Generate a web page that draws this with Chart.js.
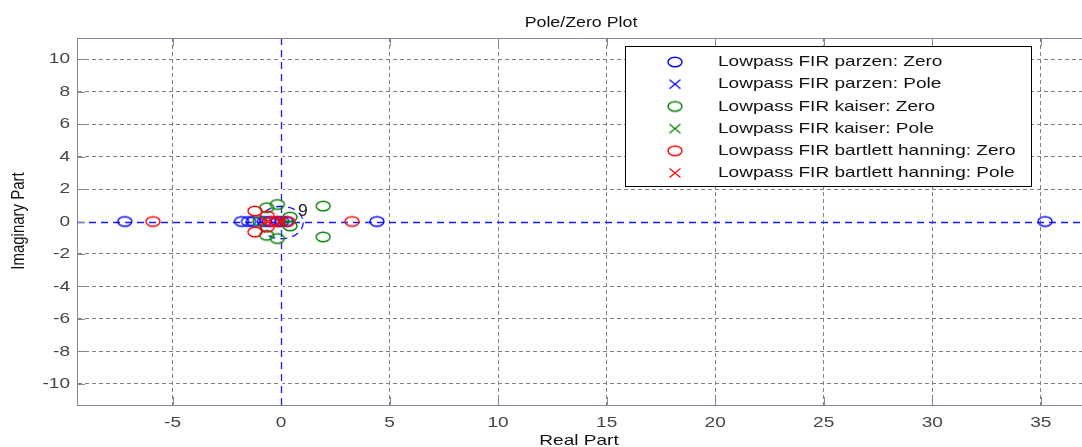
<!DOCTYPE html>
<html>
<head>
<meta charset="utf-8">
<title>Pole/Zero Plot</title>
<script src="https://cdn.jsdelivr.net/npm/chart.js@4.4.1/dist/chart.umd.min.js"></script>
<style>
  html, body { margin: 0; padding: 0; background: #fff; overflow: hidden; }
  #wrap { width: 1082px; height: 447px; position: relative; }
  canvas { display: block; }
</style>
</head>
<body>
<div id="wrap"><canvas id="pz"></canvas></div>
<script>
// tick values
const realTicks = [-5, 0, 5, 10, 15, 20, 25, 30, 35];
const imagTicks = [-10, -8, -6, -4, -2, 0, 2, 4, 6, 8, 10];

// zeros (real / imaginary parts)
const parzenZeroRe = [-7.2, -1.82, -1.5, -1.27, -0.77, -0.55, -0.14, 0.03, 0.23, 4.42, 35.2];
const parzenZeroIm = [0, 0, 0, 0, 0, 0, 0, 0, 0, 0, 0];
const kaiserZeroRe = [1.94, 1.94, 0.41, 0.41, -0.17, -0.17, -0.66, -0.66, -0.97];
const kaiserZeroIm = [0.95, -0.95, 0.27, -0.27, 1.05, -1.05, 0.85, -0.85, 0];
const bartlettZeroRe = [-5.9, -1.2, -1.2, -0.64, -0.64, -0.45, -0.17, 0.31, 3.27];
const bartlettZeroIm = [0, 0.65, -0.65, 0.35, -0.35, 0, 0, 0, 0];

// all poles sit at the origin (multiplicity 9)
const poleRe = [0];
const poleIm = [0];
const poleMultiplicity = 9;

const legendLabels = [
  'Lowpass FIR parzen: Zero',
  'Lowpass FIR parzen: Pole',
  'Lowpass FIR kaiser: Zero',
  'Lowpass FIR kaiser: Pole',
  'Lowpass FIR bartlett hanning: Zero',
  'Lowpass FIR bartlett hanning: Pole'
];

const BLUE = '#0000ff';
const GREEN = '#008000';
const RED = '#ff0000';
const axisColor = '#8585a0';
const gridColor = '#808080';
const zeroLineColor = '#1a1aff';
const FONT = '"Liberation Sans", Arial, sans-serif';
const SX = 1.27; // text in the picture is a bit wide

function toPoints(re, im) {
  return re.map((v, i) => ({ x: v, y: im[i] }));
}

// MATLAB-ish markers, slightly oval
function ringStyle(color) {
  const c = document.createElement('canvas');
  c.width = 18; c.height = 14;
  const g = c.getContext('2d');
  g.strokeStyle = color;
  g.lineWidth = 1.4;
  g.beginPath();
  g.ellipse(9, 7, 7, 4.8, 0, 0, 2 * Math.PI);
  g.stroke();
  return c;
}

function crossStyle(color) {
  const c = document.createElement('canvas');
  c.width = 14; c.height = 12;
  const g = c.getContext('2d');
  g.strokeStyle = color;
  g.lineWidth = 1.2;
  g.beginPath();
  g.moveTo(1.5, 1.5); g.lineTo(12.5, 10.5);
  g.moveTo(12.5, 1.5); g.lineTo(1.5, 10.5);
  g.stroke();
  return c;
}

function makeSet(label, pts, style, order) {
  return {
    label,
    data: pts,
    pointStyle: style,
    pointRadius: 7,
    pointHoverRadius: 7,
    showLine: false,
    order
  };
}

function stretchText(ctx, text, x, y, align, sx) {
  ctx.save();
  ctx.translate(x, y);
  ctx.scale(sx, 1);
  ctx.textAlign = align;
  ctx.fillText(text, 0, 0);
  ctx.restore();
}

const pzFrame = {
  id: 'pzFrame',
  beforeDatasetsDraw(chart) {
    const { ctx, chartArea: a } = chart;
    const x = chart.scales.x, y = chart.scales.y;
    const x0 = Math.round(x.getPixelForValue(0)) + 0.5;
    const y0 = Math.round(y.getPixelForValue(0)) + 0.5;

    ctx.save();
    ctx.beginPath();
    ctx.rect(a.left, a.top, a.right - a.left, a.bottom - a.top);
    ctx.clip();
    // wipe whatever sits under the axes lines first
    ctx.strokeStyle = '#fff';
    ctx.lineWidth = 2;
    ctx.beginPath();
    ctx.moveTo(x0, a.top + 1); ctx.lineTo(x0, a.bottom - 1);
    ctx.stroke();
    ctx.strokeStyle = zeroLineColor;
    ctx.lineWidth = 1.3;
    ctx.setLineDash([7, 5]);
    ctx.beginPath();
    ctx.moveTo(a.left, y0); ctx.lineTo(a.right, y0);
    ctx.stroke();
    ctx.beginPath();
    ctx.moveTo(x0, a.top); ctx.lineTo(x0, a.bottom);
    ctx.stroke();
    // unit circle
    const rx = x.getPixelForValue(1) - x.getPixelForValue(0);
    const ry = y.getPixelForValue(0) - y.getPixelForValue(1);
    ctx.beginPath();
    ctx.ellipse(x0, y0, rx, ry, 0, 0, 2 * Math.PI);
    ctx.stroke();
    ctx.restore();

    // top border and inward ticks
    const tickLen = 8;
    ctx.save();
    ctx.strokeStyle = axisColor;
    ctx.lineWidth = 1;
    ctx.beginPath();
    ctx.moveTo(a.left, a.top + 0.5); ctx.lineTo(a.right, a.top + 0.5);
    realTicks.forEach(v => {
      if (v === 0) return;
      const px = Math.round(x.getPixelForValue(v)) + 0.5;
      ctx.moveTo(px, a.bottom); ctx.lineTo(px, a.bottom - tickLen);
      ctx.moveTo(px, a.top); ctx.lineTo(px, a.top + tickLen);
    });
    imagTicks.forEach(v => {
      const py = Math.round(y.getPixelForValue(v)) + 0.5;
      ctx.moveTo(a.left, py); ctx.lineTo(a.left + tickLen, py);
    });
    ctx.stroke();
    ctx.restore();
  },
  afterDraw(chart) {
    const { ctx, chartArea: a } = chart;
    const x = chart.scales.x, y = chart.scales.y;

    ctx.save();
    // pole multiplicity
    ctx.fillStyle = '#222';
    ctx.font = '16px ' + FONT;
    ctx.textBaseline = 'middle';
    stretchText(ctx, String(poleMultiplicity),
      x.getPixelForValue(poleRe[0]) + 17, y.getPixelForValue(poleIm[0]) - 10, 'left', 1.1);

    // tick labels
    ctx.fillStyle = '#444';
    ctx.font = '15px ' + FONT;
    ctx.textBaseline = 'middle';
    imagTicks.forEach(v => {
      stretchText(ctx, String(v), a.left - 7, y.getPixelForValue(v), 'right', SX);
    });
    ctx.textBaseline = 'alphabetic';
    realTicks.forEach(v => {
      stretchText(ctx, String(v), x.getPixelForValue(v), a.bottom + 22, 'center', SX);
    });

    // title and axis titles
    ctx.fillStyle = '#111';
    ctx.font = '14px ' + FONT;
    stretchText(ctx, 'Pole/Zero Plot', 581, 27, 'center', SX);
    ctx.font = '15px ' + FONT;
    stretchText(ctx, 'Real Part', 579, 445, 'center', SX);
    ctx.save();
    ctx.translate(19, 221);
    ctx.rotate(-Math.PI / 2);
    ctx.scale(1, SX);
    ctx.textAlign = 'center';
    ctx.textBaseline = 'middle';
    ctx.fillText('Imaginary Part', 0, 0);
    ctx.restore();

    // legend box
    const box = { left: 625, top: 46, right: 1031, bottom: 186 };
    ctx.fillStyle = '#fff';
    ctx.fillRect(box.left, box.top, box.right - box.left, box.bottom - box.top);
    ctx.strokeStyle = '#000';
    ctx.lineWidth = 1;
    ctx.strokeRect(box.left + 0.5, box.top + 0.5, box.right - box.left, box.bottom - box.top);
    ctx.font = '15px ' + FONT;
    ctx.textBaseline = 'middle';
    ctx.fillStyle = '#111';
    chart.data.datasets.forEach((ds, i) => {
      const rowY = 62 + i * 22.2;
      const st = ds.pointStyle;
      ctx.drawImage(st, 675 - st.width / 2, rowY - st.height / 2);
      stretchText(ctx, ds.label, 718, rowY, 'left', SX);
    });
    ctx.restore();
  }
};

const datasets = [
  makeSet(legendLabels[0], toPoints(parzenZeroRe, parzenZeroIm), ringStyle(BLUE), 5),
  makeSet(legendLabels[1], toPoints(poleRe, poleIm), crossStyle(BLUE), 4),
  makeSet(legendLabels[2], toPoints(kaiserZeroRe, kaiserZeroIm), ringStyle(GREEN), 3),
  makeSet(legendLabels[3], toPoints(poleRe, poleIm), crossStyle(GREEN), 2),
  makeSet(legendLabels[4], toPoints(bartlettZeroRe, bartlettZeroIm), ringStyle(RED), 1),
  makeSet(legendLabels[5], toPoints(poleRe, poleIm), crossStyle(RED), 0)
];

function gridLine(ctx) {
  return ctx.tick && ctx.tick.value === 0 ? 'rgba(0,0,0,0)' : gridColor;
}

new Chart(document.getElementById('pz'), {
  type: 'scatter',
  data: { datasets },
  options: {
    responsive: true,
    maintainAspectRatio: false,
    animation: false,
    layout: { autoPadding: false, padding: { top: 38, right: 0, bottom: 0, left: 0 } },
    plugins: {
      legend: { display: false },
      title: { display: false },
      tooltip: { enabled: false }
    },
    scales: {
      x: {
        type: 'linear',
        min: -9.4,
        max: 36.9,
        afterBuildTicks: s => { s.ticks = realTicks.map(v => ({ value: v })); },
        afterFit: s => { s.height = 42; },
        ticks: { display: false },
        grid: { color: gridLine, drawTicks: false, lineWidth: 1 },
        border: { display: true, color: axisColor, width: 1, dash: [4, 3] }
      },
      y: {
        type: 'linear',
        min: -11.3,
        max: 11.3,
        afterBuildTicks: s => { s.ticks = imagTicks.map(v => ({ value: v })); },
        afterFit: s => { s.width = 77; },
        ticks: { display: false },
        grid: { color: gridLine, drawTicks: false, lineWidth: 1 },
        border: { display: true, color: axisColor, width: 1, dash: [4, 3] }
      }
    }
  },
  plugins: [pzFrame]
});
</script>
</body>
</html>
